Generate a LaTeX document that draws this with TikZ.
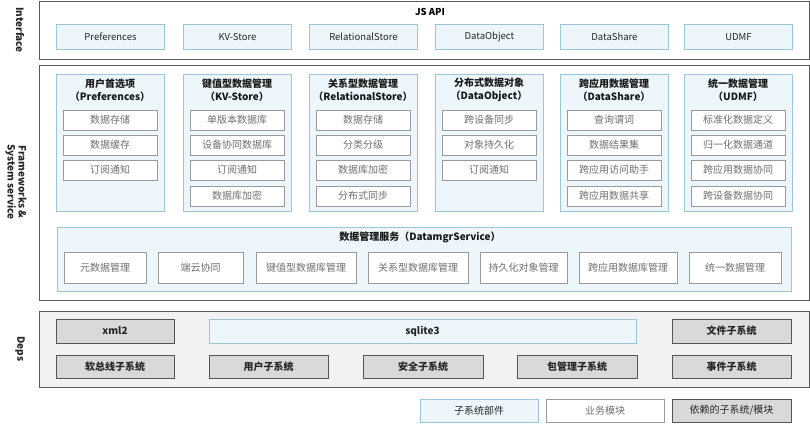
\documentclass[tikz,border=0pt]{standalone}
\usepackage{fontspec}
\setmainfont{Noto Sans CJK SC}
\definecolor{lbfill}{HTML}{EDF6FB}
\definecolor{lbdraw}{HTML}{9CC5D8}
\definecolor{itdraw}{HTML}{9A9A9A}
\definecolor{ittext}{HTML}{707070}
\definecolor{outdraw}{HTML}{5A5A5A}
\definecolor{depfill}{HTML}{F2F2F2}
\definecolor{gfill}{HTML}{D9D9D9}
\definecolor{gdraw}{HTML}{555555}
\tikzset{
  outerbox/.style={draw=outdraw, line width=1pt, fill=white},
  lbbox/.style={draw=lbdraw, line width=0.9pt, fill=lbfill, inner sep=0pt, font=\fontsize{9.5}{10}\selectfont, text=black!85},
  itembox/.style={draw=itdraw, line width=0.8pt, fill=white, inner sep=0pt, minimum width=94pt, minimum height=20pt, font=\fontsize{10}{10}\selectfont, text=ittext},
  svcbox/.style={draw=itdraw, line width=0.8pt, fill=white, inner sep=0pt, minimum height=31pt, font=\fontsize{10}{10}\selectfont, text=ittext},
  gbox/.style={draw=gdraw, line width=0.9pt, fill=gfill, inner sep=0pt, font=\fontsize{10}{10}\selectfont\bfseries, text=black!85},
  sidelabel/.style={rotate=-90, align=center, font=\fontsize{10}{11}\selectfont\bfseries, text=black!85},
  coltitle/.style={align=center, font=\fontsize{10}{13}\selectfont\bfseries, text=black!90},
}
\begin{document}
\begin{tikzpicture}[x=1pt,y=-1pt]
\useasboundingbox (0,0) rectangle (810,423);
% ---------- Interface ----------
\node[outerbox, minimum width=770pt, minimum height=58pt, anchor=north west] (ifout) at (39,1) {};
\node[sidelabel] (iflab) at (20,30) {Interface};
\node[font=\fontsize{9.5}{10}\selectfont\bfseries] (jsapi) at (430,12) {JS API};
\foreach \x/\t/\n in {56/Preferences/a, 183/KV-Store/b, 309/RelationalStore/c, 435/DataObject/d, 560/DataShare/e, 684/UDMF/f}{
  \node[lbbox, minimum width=108pt, minimum height=25pt, anchor=north west] (if\n) at (\x,24) {\t};
}
% ---------- Frameworks ----------
\node[outerbox, minimum width=770pt, minimum height=235pt, anchor=north west] (fwout) at (39,65) {};
\node[sidelabel] (fwlab) at (16,182) {Frameworks \&\\System service};
% columns
\foreach \x/\n in {56/a, 183/b, 309/c, 435/d, 560/e, 684/f}{
  \node[lbbox, minimum width=108pt, minimum height=137pt, anchor=north west] (col\n) at (\x,74) {};
}
\node[coltitle] (tia) at (110,90) {用户首选项\\（Preferences）};
\node[coltitle] (tib) at (237,90) {键值型数据管理\\（KV-Store）};
\node[coltitle] (tic) at (363,90) {关系型数据管理\\（RelationalStore）};
\node[coltitle] (tid) at (489,90) {分布式数据对象\\（DataObject）};
\node[coltitle] (tie) at (614,90) {跨应用数据管理\\（DataShare）};
\node[coltitle] (tif) at (738,90) {统一数据管理\\（UDMF）};
% items
\node[itembox] (a1) at (110,120) {数据存储};
\node[itembox] (a2) at (110,145) {数据缓存};
\node[itembox] (a3) at (110,170) {订阅通知};
\node[itembox] (b1) at (237,120) {单版本数据库};
\node[itembox] (b2) at (237,145) {设备协同数据库};
\node[itembox] (b3) at (237,170) {订阅通知};
\node[itembox] (b4) at (237,196) {数据库加密};
\node[itembox] (c1) at (363,120) {数据存储};
\node[itembox] (c2) at (363,145) {分类分级};
\node[itembox] (c3) at (363,170) {数据库加密};
\node[itembox] (c4) at (363,196) {分布式同步};
\node[itembox] (d1) at (489,120) {跨设备同步};
\node[itembox] (d2) at (489,145) {对象持久化};
\node[itembox] (d3) at (489,170) {订阅通知};
\node[itembox] (e1) at (614,120) {查询谓词};
\node[itembox] (e2) at (614,145) {数据结果集};
\node[itembox] (e3) at (614,170) {跨应用访问助手};
\node[itembox] (e4) at (614,196) {跨应用数据共享};
\node[itembox] (f1) at (738,120) {标准化数据定义};
\node[itembox] (f2) at (738,145) {归一化数据通道};
\node[itembox] (f3) at (738,170) {跨应用数据协同};
\node[itembox] (f4) at (738,196) {跨设备数据协同};
% service
\node[lbbox, minimum width=734pt, minimum height=64pt, anchor=north west] (svc) at (57,227) {};
\node[coltitle] (svct) at (420,237) {数据管理服务（DatamgrService）};
\node[svcbox, minimum width=82pt] (s1) at (105,267.5) {元数据管理};
\node[svcbox, minimum width=85pt] (s2) at (200.5,267.5) {端云协同};
\node[svcbox, minimum width=100pt] (s3) at (306,267.5) {键值型数据库管理};
\node[svcbox, minimum width=100pt] (s4) at (418,267.5) {关系型数据库管理};
\node[svcbox, minimum width=87pt] (s5) at (523.5,267.5) {持久化对象管理};
\node[svcbox, minimum width=98pt] (s6) at (628,267.5) {跨应用数据库管理};
\node[svcbox, minimum width=92pt] (s7) at (735,267.5) {统一数据管理};
% ---------- Deps ----------
\node[outerbox, fill=depfill, minimum width=770pt, minimum height=76pt, anchor=north west] (dpout) at (39,311) {};
\node[sidelabel] (dplab) at (20,349) {Deps};
\node[gbox, minimum width=118pt, minimum height=24pt] (xml) at (115,331) {xml2};
\node[lbbox, font=\fontsize{10}{10}\selectfont\bfseries, minimum width=427pt, minimum height=24pt] (sql) at (422.5,331) {sqlite3};
\node[gbox, minimum width=119pt, minimum height=24pt] (file) at (731.5,331) {文件子系统};
\node[gbox, minimum width=118pt, minimum height=23pt] (bus) at (115,366.5) {软总线子系统};
\node[gbox, minimum width=119pt, minimum height=23pt] (user) at (268.5,366.5) {用户子系统};
\node[gbox, minimum width=120pt, minimum height=23pt] (sec) at (423,366.5) {安全子系统};
\node[gbox, minimum width=120pt, minimum height=23pt] (pkg) at (577,366.5) {包管理子系统};
\node[gbox, minimum width=119pt, minimum height=23pt] (evt) at (731.5,366.5) {事件子系统};
% ---------- Legend ----------
\node[lbbox, font=\fontsize{10}{10}\selectfont, minimum width=118pt, minimum height=23pt] (lg1) at (479,410.5) {子系统部件};
\node[itembox, minimum width=118pt, minimum height=23pt] (lg2) at (605,410.5) {业务模块};
\node[gbox, font=\fontsize{10}{10}\selectfont, minimum width=119pt, minimum height=23pt] (lg3) at (731.5,410.5) {依赖的子系统/模块};
\end{tikzpicture}
\end{document}
